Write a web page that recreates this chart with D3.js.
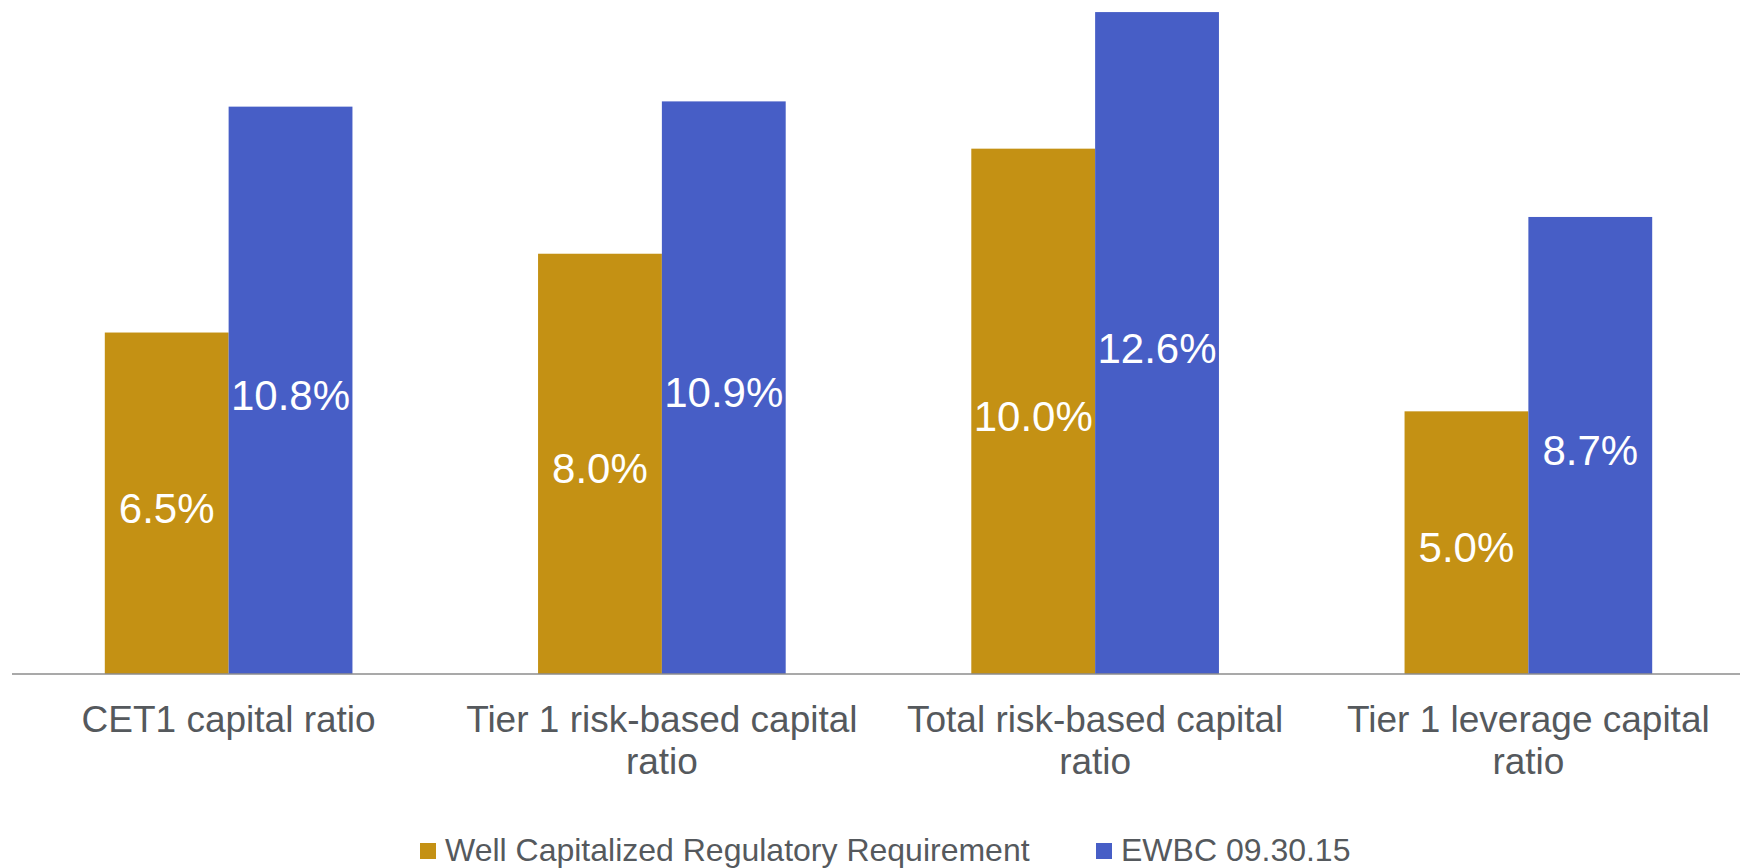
<!DOCTYPE html>
<html>
<head>
<meta charset="utf-8">
<script src="https://cdn.jsdelivr.net/npm/d3@7"></script>
<style>
  body { margin: 0; background: #fff; }
  text { font-family: "Liberation Sans", Arial, Helvetica, sans-serif; }
</style>
</head>
<body>
<div id="chart"></div>
<script>
// data
var categories = [
  ["CET1 capital ratio"],
  ["Tier 1 risk-based capital", "ratio"],
  ["Total risk-based capital", "ratio"],
  ["Tier 1 leverage capital", "ratio"]
];
var seriesNames = ["Well Capitalized Regulatory Requirement", "EWBC 09.30.15"];
var wellCap = [6.5, 8.0, 10.0, 5.0];
var ewbc = [10.8, 10.9, 12.6, 8.7];
var colors = ["#C49114", "#475EC6"];

var width = 1740,
    height = 868,
    baseline = 674;

var svg = d3.select('#chart').append('svg')
  .attr('width', width)
  .attr('height', height);

// scales
var scaleX = d3.scaleBand()
  .domain(d3.range(categories.length))
  .range([12, 1745])
  .padding(0);

var groupW = scaleX.bandwidth() * 0.5716;

var scaleSub = d3.scaleBand()
  .domain([0, 1])
  .range([0, groupW]);

var scaleY = d3.scaleLinear()
  .domain([0, 12.83])
  .range([baseline, 0]);

var rows = categories.map(function(c, i) {
  return [wellCap[i], ewbc[i]];
});

var g = svg.append('g');

var groups = g.selectAll('.grp').data(rows).enter().append('g')
  .attr('class', 'grp')
  .attr('transform', function(d, i) {
    return 'translate(' + (scaleX(i) + (scaleX.bandwidth() - groupW) / 2) + ',0)';
  });

groups.selectAll('rect').data(function(d) { return d; }).enter().append('rect')
  .attr('x', function(d, j) { return scaleSub(j); })
  .attr('y', function(d) { return scaleY(d); })
  .attr('width', scaleSub.bandwidth())
  .attr('height', function(d) { return baseline - scaleY(d); })
  .attr('fill', function(d, j) { return colors[j]; });

// value labels, centred in each bar
groups.selectAll('.val').data(function(d) { return d; }).enter().append('text')
  .attr('class', 'val')
  .attr('x', function(d, j) { return scaleSub(j) + scaleSub.bandwidth() / 2; })
  .attr('y', function(d) { return (scaleY(d) + baseline) / 2 + 5; })
  .attr('text-anchor', 'middle')
  .attr('dominant-baseline', 'central')
  .attr('fill', '#fff')
  .attr('font-size', '42px')
  .text(function(d) { return d.toFixed(1) + '%'; });

// axis line
svg.append('line')
  .attr('x1', 12).attr('x2', width)
  .attr('y1', baseline).attr('y2', baseline)
  .attr('stroke', '#8c8c8c')
  .attr('stroke-width', 1.5);

// category labels
var catText = svg.selectAll('.cat').data(categories).enter().append('text')
  .attr('class', 'cat')
  .attr('text-anchor', 'middle')
  .attr('fill', '#55595d')
  .attr('font-size', '37px');

catText.selectAll('tspan').data(function(d, i) {
    return d.map(function(line) { return { line: line, i: i }; });
  }).enter().append('tspan')
  .attr('x', function(d) { return scaleX(d.i) + scaleX.bandwidth() / 2; })
  .attr('y', function(d, k) { return 731.7 + k * 42.6; })
  .text(function(d) { return d.line; });

// legend
var legendX = [420, 1096];
var legend = svg.selectAll('.leg').data(seriesNames).enter().append('g')
  .attr('class', 'leg')
  .attr('transform', function(d, i) { return 'translate(' + legendX[i] + ',843)'; });

legend.append('rect')
  .attr('width', 16).attr('height', 16)
  .attr('fill', function(d, i) { return colors[i]; });

legend.append('text')
  .attr('x', 25)
  .attr('y', 17.7)
  .attr('fill', '#55595d')
  .attr('font-size', '32px')
  .text(function(d) { return d; });
</script>
</body>
</html>
